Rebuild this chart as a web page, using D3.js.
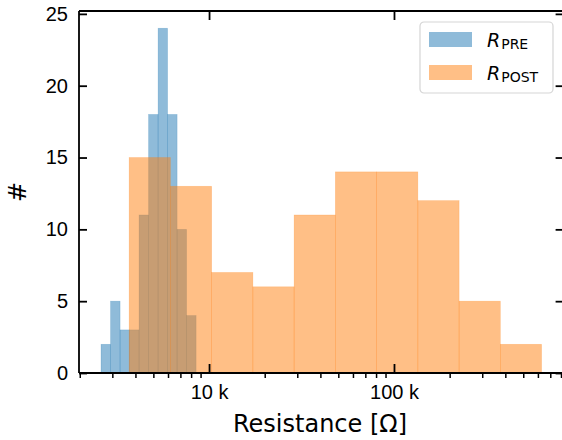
<!DOCTYPE html>
<html>
<head>
<meta charset="utf-8">
<script src="https://cdn.jsdelivr.net/npm/d3@7"></script>
<style>
  body { margin: 0; background: #fff; }
  svg { font-family: "DejaVu Sans", sans-serif; }
</style>
</head>
<body>
<div id="chart"></div>
<script>
// bin edges (ohms), one more edge than counts
const preEdges = [2606, 2934, 3303, 3718, 4184, 4710, 5302, 5968, 6718, 7562, 8511]
const preCounts = [2, 5, 3, 3, 11, 18, 24, 18, 10, 4]
const postEdges = [3698, 6180, 10328, 17258, 28840, 48195, 80538, 134586, 224905, 375837, 628058]
const postCounts = [15, 13, 7, 6, 11, 14, 14, 12, 5, 2]
const yTicks = [0, 5, 10, 15, 20, 25]
const xMajor = [1e4, 1e5]
const xMinor = [2e3, 3e3, 4e3, 5e3, 6e3, 7e3, 8e3, 9e3,
                2e4, 3e4, 4e4, 5e4, 6e4, 7e4, 8e4, 9e4,
                2e5, 3e5, 4e5, 5e5, 6e5, 7e5, 8e5]
const series = [
    { name: 'PRE', edges: preEdges, counts: preCounts, color: '#1f77b4' },
    { name: 'POST', edges: postEdges, counts: postCounts, color: '#ff7f0e' }
]

const width = 562, height = 440
const plotLeft = 79, plotRight = 563.6, plotTop = 11, plotBottom = 373

const svg = d3.select('#chart').append('svg')
    .attr('width', width)
    .attr('height', height)

// log axis with 5% margins like matplotlib
const lo = Math.log10(d3.min(preEdges.concat(postEdges)))
const hi = Math.log10(d3.max(preEdges.concat(postEdges)))
const pad = (hi - lo) * 0.05
const xScale = d3.scaleLog()
    .domain([Math.pow(10, lo - pad), Math.pow(10, hi + pad)])
    .range([plotLeft, plotRight])
const yScale = d3.scaleLinear()
    .domain([0, 25.2])
    .range([plotBottom, plotTop])

series.forEach(s => {
    const bins = s.counts.map((c, i) => ({ x0: s.edges[i], x1: s.edges[i + 1], n: c }))
    svg.append('g')
        .selectAll('rect')
        .data(bins)
        .enter()
        .append('rect')
        .attr('x', d => xScale(d.x0))
        .attr('width', d => xScale(d.x1) - xScale(d.x0))
        .attr('y', d => yScale(d.n))
        .attr('height', d => yScale(0) - yScale(d.n))
        .style('fill', s.color)
        .style('fill-opacity', 0.5)
        .style('stroke', s.color)
        .style('stroke-opacity', 0.3)
        .style('stroke-width', 0.6)
})

// frame
const frame = svg.append('g').style('stroke', '#000').style('stroke-width', 1.8)
frame.append('line').attr('x1', plotLeft).attr('x2', plotLeft).attr('y1', plotTop).attr('y2', plotBottom)
frame.append('line').attr('x1', plotRight).attr('x2', plotRight).attr('y1', plotTop).attr('y2', plotBottom)
frame.append('line').attr('x1', plotLeft).attr('x2', plotRight).attr('y1', plotTop).attr('y2', plotTop)
frame.append('line').attr('x1', plotLeft).attr('x2', plotRight).attr('y1', plotBottom).attr('y2', plotBottom)

// y axis: inward ticks on both sides
svg.append('g')
    .attr('transform', `translate(${plotLeft},0)`)
    .call(d3.axisLeft(yScale).tickValues(yTicks).tickSizeInner(-8).tickSizeOuter(0).tickPadding(11))
    .call(g => g.select('.domain').remove())
    .call(g => g.selectAll('line').style('stroke-width', 1.8))
    .call(g => g.selectAll('text').style('font-size', '20px').style('fill', '#000'))

svg.append('g')
    .attr('transform', `translate(${plotRight},0)`)
    .call(d3.axisRight(yScale).tickValues(yTicks).tickSizeInner(-8).tickSizeOuter(0).tickFormat(''))
    .call(g => g.select('.domain').remove())
    .call(g => g.selectAll('line').style('stroke-width', 1.8))

// x axis: major ticks inward, minor ticks outward
const fmt = v => (v / 1000) + ' k'
svg.append('g')
    .attr('transform', `translate(0,${plotBottom})`)
    .call(d3.axisBottom(xScale).tickValues(xMajor).tickSizeInner(-9).tickSizeOuter(0).tickPadding(12).tickFormat(fmt))
    .call(g => g.select('.domain').remove())
    .call(g => g.selectAll('line').style('stroke-width', 1.8))
    .call(g => g.selectAll('text').style('font-size', '20px').style('fill', '#000'))

svg.append('g')
    .attr('transform', `translate(0,${plotBottom})`)
    .call(d3.axisBottom(xScale).tickValues(xMinor).tickSizeInner(5).tickSizeOuter(0).tickFormat(''))
    .call(g => g.select('.domain').remove())
    .call(g => g.selectAll('line').style('stroke-width', 1.5))

svg.append('g')
    .attr('transform', `translate(0,${plotTop})`)
    .call(d3.axisTop(xScale).tickValues(xMajor).tickSizeInner(-9).tickSizeOuter(0).tickFormat(''))
    .call(g => g.select('.domain').remove())
    .call(g => g.selectAll('line').style('stroke-width', 1.8))

// axis labels
svg.append('text')
    .attr('x', 320)
    .attr('y', 432)
    .attr('text-anchor', 'middle')
    .style('font-size', '24px')
    .text('Resistance [Ω]')

svg.append('text')
    .attr('transform', `translate(26,${(plotTop + plotBottom) / 2}) rotate(-90)`)
    .attr('text-anchor', 'middle')
    .style('font-size', '24px')
    .text('#')

// legend
const legend = svg.append('g').attr('transform', 'translate(420,22)')
legend.append('rect')
    .attr('width', 133)
    .attr('height', 71)
    .attr('rx', 4)
    .style('fill', '#fff')
    .style('fill-opacity', 0.8)
    .style('stroke', '#d5d5d5')
    .style('stroke-width', 1.2)

series.forEach((s, i) => {
    const row = legend.append('g').attr('transform', `translate(0,${i * 33})`)
    row.append('rect')
        .attr('x', 9)
        .attr('y', 10)
        .attr('width', 43)
        .attr('height', 15)
        .style('fill', s.color)
        .style('fill-opacity', 0.5)
    const t = row.append('text')
        .attr('x', 67)
        .attr('y', 25)
        .style('font-size', '19px')
    t.append('tspan').style('font-style', 'italic').text('R')
    t.append('tspan').attr('dy', 2).attr('dx', 1).style('font-size', '14px').text(s.name)
})
</script>
</body>
</html>
